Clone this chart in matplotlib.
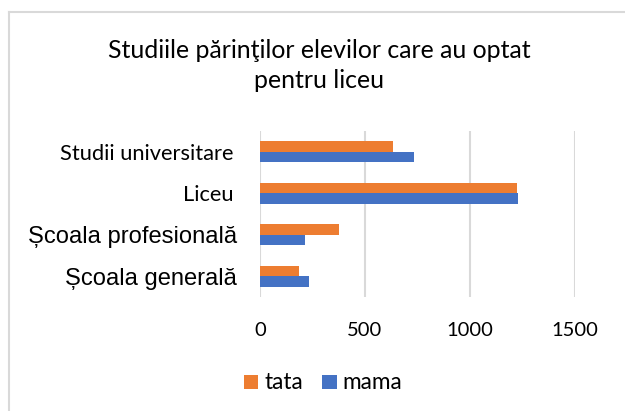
import matplotlib
matplotlib.use("Agg")
import matplotlib.pyplot as plt
from matplotlib.lines import Line2D
from matplotlib.patches import Patch
import numpy as np

categories = ["Școala generală", "Școala profesională", "Liceu", "Studii universitare"]
tata = [187, 375, 1222, 632]
mama = [235, 216, 1230, 735]
xticks = [0, 500, 1000, 1500]
title = "Studiile părinţilor elevilor care au optat\npentru liceu"

ORANGE = "#ED7D31"
BLUE = "#4472C4"
GRID = "#D9D9D9"
W, H = 625, 411

fig = plt.figure(figsize=(6.25, 4.11), dpi=100)
fig.patch.set_facecolor("white")
ax = fig.add_axes([260/W, 1-297/H, 315/W, 166/H])

y = np.arange(len(categories))
h = 0.256
ax.barh(y + h/2, tata, height=h, color=ORANGE, zorder=3, label="tata")
ax.barh(y - h/2, mama, height=h, color=BLUE, zorder=3, label="mama")

ax.set_xlim(0, 1500)
ax.set_ylim(-0.5, len(categories) - 0.5)
ax.set_xticks(xticks)
ax.set_xticklabels([str(v) for v in xticks], fontfamily="Lato", fontsize=14, color="#000000")
ax.set_yticks(y)
ax.set_yticklabels(categories)
ytl = ax.get_yticklabels()
for i, lab in enumerate(ytl):
    if i < 2:
        lab.set_fontfamily("Liberation Sans")
        lab.set_fontsize(17)
    else:
        lab.set_fontfamily("Lato")
        lab.set_fontsize(13)
    lab.set_color("#000000")
ax.tick_params(axis="both", length=0)
ax.tick_params(axis="x", pad=18)
for i, t in enumerate(ax.yaxis.get_major_ticks()):
    t.set_pad(16.5 if i < 2 else 19.0)
ax.grid(axis="x", color=GRID, linewidth=1.5, zorder=0)
for s in ax.spines.values():
    s.set_visible(False)

lines = title.split("\n")
baselines = [58.5, 88.5]
ttl = [fig.text(319/W, 1-b/H, ln, ha="center", va="baseline", fontfamily="Lato",
                fontsize=17, color="#000000") for ln, b in zip(lines, baselines)]

handles = [Patch(facecolor=ORANGE, label="tata"), Patch(facecolor=BLUE, label="mama")]
leg = fig.legend(handles=handles, loc="center", bbox_to_anchor=(323/W, 1-382/H), ncol=2,
                 frameon=False, prop={"family": "Lato", "size": 14}, handlelength=0.75,
                 handleheight=0.75, handletextpad=0.3, columnspacing=1.0)

fig.add_artist(Line2D([9/W, 9/W], [0, 1-12/H], transform=fig.transFigure, color=GRID, lw=1.5))
fig.add_artist(Line2D([9/W, 1], [1-12/H, 1-12/H], transform=fig.transFigure, color=GRID, lw=1.5))

# fit font sizes to the text widths measured on the reference (pixels)
fig.canvas.draw()
r = fig.canvas.get_renderer()
def scale_for(t, target):
    return t.get_fontsize() * target / t.get_window_extent(r).width

sc_arial = scale_for(ytl[1], 209)
sc_lato = scale_for(ytl[3], 174)
for i, lab in enumerate(ytl):
    lab.set_fontsize(sc_arial if i < 2 else sc_lato)
xtl = ax.get_xticklabels()
sc = scale_for(xtl[2], 47)
for lab in xtl:
    lab.set_fontsize(sc)
lt = leg.get_texts()
sc = scale_for(lt[1], 60)
for t in lt:
    t.set_fontsize(sc)
sc = scale_for(ttl[0], 423)
for t in ttl:
    t.set_fontsize(sc)

fig.savefig("out.png", dpi=100, facecolor="white")
